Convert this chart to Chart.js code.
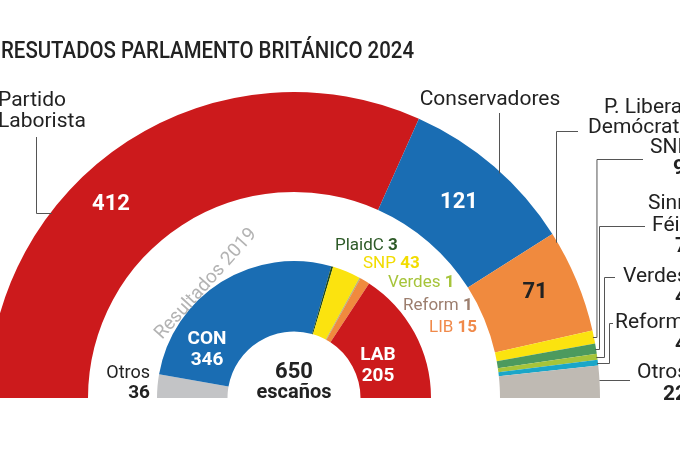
<!DOCTYPE html>
<html>
<head>
<meta charset="utf-8">
<script src="https://cdn.jsdelivr.net/npm/chart.js@4/dist/chart.umd.min.js"></script>
<style>
  html, body { margin: 0; padding: 0; background: #fff; overflow: hidden; }
  canvas { display: block; }
</style>
</head>
<body>
<canvas id="graficaParlamento" width="680" height="450"></canvas>
<script>
// Escaños 2024 (anillo exterior) y 2019 (anillo interior), de izquierda a derecha
var partidos2024 = ['Laboristas', 'Conservadores', 'Liberal Demócratas', 'SNP', 'Sinn Féin', 'Verdes', 'Reform', 'Otros'];
var escanos2024 = [412, 121, 71, 9, 7, 4, 4, 22];
var partidos2019 = ['Otros', 'Conservadores', 'PlaidC', 'SNP', 'Verdes', 'Reform', 'Liberal Demócratas', 'Laboristas'];
var escanos2019 = [36, 346, 3, 43, 1, 1, 15, 205];
var totalEscanos = 650;

var colores2024 = ['#cc1a1c', '#1a6db3', '#f08a3e', '#fbe30f', '#4c9a5e', '#a6c43a', '#1aa6c8', '#bfbab3'];
var colores2019 = ['#c3c4c6', '#1a6db3', '#1f4a1c', '#fbe30f', '#a6c43a', '#a4836f', '#f08a3e', '#cc1a1c'];

var FUENTE = 'Roboto, "Noto Sans", sans-serif';

function texto(ctx, x, y, partes, align) {
    // partes: [[texto, negrita, color, tamaño], ...] en una sola línea
    var anchos = partes.map(function (p) {
        ctx.font = (p[1] ? 'bold ' : '') + p[3] + 'px ' + FUENTE;
        return ctx.measureText(p[0]).width;
    });
    var total = anchos.reduce(function (a, b) { return a + b; }, 0);
    var xi = align === 'right' ? x - total : (align === 'center' ? x - total / 2 : x);
    ctx.textAlign = 'left';
    ctx.textBaseline = 'alphabetic';
    partes.forEach(function (p, i) {
        ctx.font = (p[1] ? 'bold ' : '') + p[3] + 'px ' + FUENTE;
        ctx.fillStyle = p[2];
        ctx.fillText(p[0], xi, y);
        xi += anchos[i];
    });
}

function linea(ctx, puntos) {
    ctx.beginPath();
    ctx.moveTo(puntos[0][0], puntos[0][1]);
    for (var i = 1; i < puntos.length; i++) ctx.lineTo(puntos[i][0], puntos[i][1]);
    ctx.stroke();
}

// punto medio del borde exterior de un arco
function puntoMedio(arco) {
    var a = (arco.startAngle + arco.endAngle) / 2;
    return [arco.x + Math.cos(a) * arco.outerRadius, arco.y + Math.sin(a) * arco.outerRadius];
}
function bordeY(arco, x) {
    return arco.y - Math.sqrt(arco.outerRadius * arco.outerRadius - (x - arco.x) * (x - arco.x));
}
function bordeX(arco, y, lado) {
    return arco.x + lado * Math.sqrt(arco.outerRadius * arco.outerRadius - (arco.y - y) * (arco.y - y));
}

var etiquetas = {
    id: 'etiquetas',
    afterDraw: function (chart) {
        var ctx = chart.ctx;
        var ext = chart.getDatasetMeta(0).data;
        var osc = '#222';
        ctx.save();

        // título
        ctx.font = '500 24px ' + FUENTE;
        var titulo = 'RESUTADOS PARLAMENTO BRITÁNICO 2024';
        var sx = 413 / ctx.measureText(titulo).width;
        ctx.save();
        ctx.scale(sx, 1);
        ctx.fillStyle = osc;
        ctx.textAlign = 'left';
        ctx.fillText(titulo, 1 / sx, 58);
        ctx.restore();

        // líneas guía
        ctx.strokeStyle = '#555';
        ctx.lineWidth = 1;
        var lab = ext[0];
        linea(ctx, [[36.5, 137], [36.5, 213.5], [bordeX(lab, 213.5, -1) + 2, 213.5]]);
        linea(ctx, [[499.5, 113], [499.5, bordeY(ext[1], 499.5) + 2]]);
        linea(ctx, [[578, 131.5], [556.5, 131.5], [556.5, bordeY(ext[2], 556.5) + 2]]);

        var pequenos = [[3, 159.5, 643, 594.5], [4, 226.5, 645, 599.5], [5, 277.5, 615, 604.5], [6, 323.5, 613, 609.5]];
        pequenos.forEach(function (p) {
            var pm = puntoMedio(ext[p[0]]);
            var y = Math.round(pm[1]) + 0.5;
            var xv = Math.max(p[3], bordeX(ext[p[0]], y, 1) + 3);
            linea(ctx, [[p[2], p[1]], [xv, p[1]], [xv, y], [bordeX(ext[p[0]], y, 1) - 1, y]]);
        });
        linea(ctx, [[bordeX(ext[7], 380.5, 1), 380.5], [630, 380.5]]);

        // etiquetas exteriores
        var t = 21;
        texto(ctx, -2, 106, [['Partido', false, osc, t]], 'left');
        texto(ctx, -2, 127, [['Laborista', false, osc, t]], 'left');
        texto(ctx, 490, 105, [['Conservadores', false, osc, t]], 'center');
        texto(ctx, 604, 113, [['P. Liberal', false, osc, t]], 'left');
        texto(ctx, 588, 133, [['Demócrata', false, osc, t]], 'left');
        texto(ctx, 650, 153, [['SNP', false, osc, t]], 'left');
        texto(ctx, 673, 174, [[String(escanos2024[3]), true, osc, t]], 'left');
        texto(ctx, 648, 209, [['Sinn', false, osc, t]], 'left');
        texto(ctx, 652, 231, [['Féin', false, osc, t]], 'left');
        texto(ctx, 675, 252, [[String(escanos2024[4]), true, osc, t]], 'left');
        texto(ctx, 623, 282, [['Verdes', false, osc, t]], 'left');
        texto(ctx, 675, 303, [[String(escanos2024[5]), true, osc, t]], 'left');
        texto(ctx, 615, 328, [['Reform', false, osc, t]], 'left');
        texto(ctx, 675, 350, [[String(escanos2024[6]), true, osc, t]], 'left');
        texto(ctx, 637, 378, [['Otros', false, osc, t]], 'left');
        texto(ctx, 663, 400, [[String(escanos2024[7]), true, osc, t]], 'left');

        // cifras dentro del anillo exterior
        texto(ctx, 111, 210, [[String(escanos2024[0]), true, '#fff', 22]], 'center');
        texto(ctx, 459, 208, [[String(escanos2024[1]), true, '#fff', 22]], 'center');
        texto(ctx, 535, 298, [[String(escanos2024[2]), true, osc, 22]], 'center');

        // anillo interior 2019
        ctx.save();
        ctx.translate(206, 284);
        ctx.rotate(-48 * Math.PI / 180);
        ctx.textAlign = 'center';
        ctx.textBaseline = 'middle';
        ctx.font = '19px ' + FUENTE;
        ctx.fillStyle = '#b3b3b3';
        ctx.fillText('Resultados 2019', 0, 0);
        ctx.restore();

        texto(ctx, 150, 378, [['Otros', false, osc, 18]], 'right');
        texto(ctx, 150, 398, [[String(escanos2019[0]), true, osc, 19]], 'right');
        texto(ctx, 207, 344, [['CON', true, '#fff', 19]], 'center');
        texto(ctx, 207, 365, [[String(escanos2019[1]), true, '#fff', 19]], 'center');
        texto(ctx, 378, 360, [['LAB', true, '#fff', 19]], 'center');
        texto(ctx, 378, 381, [[String(escanos2019[7]), true, '#fff', 19]], 'center');
        texto(ctx, 294, 378, [[String(totalEscanos), true, osc, 22]], 'center');
        texto(ctx, 294, 398, [['escaños', true, osc, 20]], 'center');

        texto(ctx, 335, 250, [['PlaidC ', false, '#2d5a27', 17], [String(escanos2019[2]), true, '#2d5a27', 17]], 'left');
        texto(ctx, 363, 268, [['SNP ', false, '#f2dc00', 17], [String(escanos2019[3]), true, '#f2dc00', 17]], 'left');
        texto(ctx, 388, 287, [['Verdes ', false, '#a6c43a', 17], [String(escanos2019[4]), true, '#a6c43a', 17]], 'left');
        texto(ctx, 403, 310, [['Reform ', false, '#9c7e6e', 17], [String(escanos2019[5]), true, '#9c7e6e', 17]], 'left');
        texto(ctx, 429, 332, [['LIB ', false, '#f0894a', 17], [String(escanos2019[6]), true, '#f0894a', 17]], 'left');

        ctx.restore();
    }
};

function crearGraficaParlamento() {
    var datos = {
        labels: partidos2024,
        datasets: [{
            label: '2024',
            data: escanos2024,
            backgroundColor: colores2024,
            borderWidth: 0,
            weight: 100
        }, {
            label: 'hueco',
            data: [totalEscanos],
            backgroundColor: 'rgba(0,0,0,0)',
            borderWidth: 0,
            weight: 69
        }, {
            label: '2019',
            data: escanos2019,
            backgroundColor: colores2019,
            borderWidth: 0,
            weight: 70.5
        }]
    };

    var opciones = {
        responsive: false,
        animation: false,
        rotation: -90,
        circumference: 180,
        radius: 306,
        cutout: (66.5 / 306 * 100) + '%',
        layout: { padding: { left: 0, right: 92, top: 40, bottom: 0 } },
        plugins: {
            legend: { display: false },
            tooltip: { enabled: false }
        }
    };

    var ctx = document.getElementById('graficaParlamento').getContext('2d');
    var grafica = new Chart(ctx, {
        type: 'doughnut',
        data: datos,
        options: opciones,
        plugins: [etiquetas]
    });
}

crearGraficaParlamento();
</script>
</body>
</html>
